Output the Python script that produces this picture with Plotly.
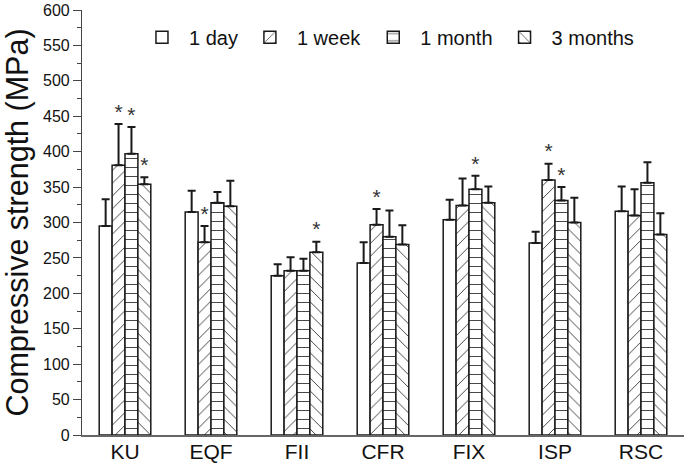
import plotly.graph_objects as go

categories = ["KU", "EQF", "FII", "CFR", "FIX", "ISP", "RSC"]
series_names = ["1 day", "1 week", "1 month", "3 months"]

day_vals = [295, 315, 225, 243, 304, 271, 316]
day_err = [38, 30, 16, 29, 28, 16, 35]
week_vals = [381, 272, 232, 297, 324, 360, 310]
week_err = [58, 23, 19, 22, 38, 23, 37]
month_vals = [397, 328, 232, 280, 347, 331, 356]
month_err = [38, 15, 17, 37, 19, 19, 29]
three_vals = [354, 323, 258, 269, 328, 300, 283]
three_err = [10, 36, 15, 27, 23, 35, 30]

day_sig = [0, 0, 0, 0, 0, 0, 0]
week_sig = [1, 1, 0, 1, 0, 1, 0]
month_sig = [1, 0, 0, 0, 1, 1, 0]
three_sig = [1, 0, 1, 0, 0, 0, 0]

y_ticks = list(range(0, 601, 50))

values = [day_vals, week_vals, month_vals, three_vals]
errors = [day_err, week_err, month_err, three_err]
sigs = [day_sig, week_sig, month_sig, three_sig]
shapes = ["", "/", "-", "\\"]

FONT = "Liberation Sans, Arial, sans-serif"
bar_w = 0.15

fig = go.Figure()
for j, name in enumerate(series_names):
    xs = [i + (j - 1.5) * bar_w for i in range(len(categories))]
    fig.add_trace(go.Bar(
        x=xs, y=values[j], width=bar_w, name=name,
        marker=dict(
            color="white",
            line=dict(color="#1a1a1a", width=1.5),
            pattern=dict(shape=shapes[j], size=9, solidity=0.1,
                         fgcolor="#333333", bgcolor="white", fillmode="replace"),
        ),
        error_y=dict(type="data", symmetric=False, array=errors[j],
                     arrayminus=[0] * len(categories),
                     color="#1a1a1a", thickness=2, width=4),
    ))
for j in range(len(series_names)):
    xs = [i + (j - 1.5) * bar_w for i in range(len(categories))]
    ys = [v + e for v, e in zip(values[j], errors[j])]
    fig.add_trace(go.Scatter(
        x=xs, y=ys, mode="text",
        text=["*" if s else "" for s in sigs[j]],
        textposition="top center",
        textfont=dict(family=FONT, size=21, color="#333333"),
        showlegend=False, hoverinfo="skip",
    ))

fig.update_layout(
    width=685, height=463,
    margin=dict(l=82, r=1, t=10, b=28),
    paper_bgcolor="white", plot_bgcolor="white",
    barmode="overlay",
    font=dict(family=FONT, color="#111111"),
    showlegend=True,
    legend=dict(orientation="h", x=0.088, y=0.982, xanchor="left", yanchor="top",
                font=dict(family=FONT, size=20, color="#111111"),
                bgcolor="rgba(0,0,0,0)", itemwidth=44),
)
fig.update_xaxes(
    range=[-0.5, 6.5], tickvals=list(range(len(categories))), ticktext=categories,
    showline=True, linecolor="#666666", linewidth=1.5, ticks="",
    showgrid=False, zeroline=False, automargin=False, ticklabelstandoff=-3,
    tickfont=dict(family=FONT, size=21, color="#111111"),
)
fig.update_yaxes(
    range=[0, 600], tickvals=y_ticks, ticks="outside", ticklen=8, tickwidth=1.2,
    tickcolor="#444444",
    minor=dict(dtick=25, ticks="outside", ticklen=4, tickwidth=1, tickcolor="#444444"),
    showline=True, linecolor="#444444", linewidth=1.2,
    showgrid=False, zeroline=False, automargin=False,
    tickfont=dict(family=FONT, size=16, color="#111111"),
    title=dict(text="Compressive strength (MPa)", font=dict(family=FONT, size=30.5, color="#111111"),
               standoff=25),
)

fig.write_html("out.html", config={"displayModeBar": False},
               post_script="document.body.style.margin='0';")
